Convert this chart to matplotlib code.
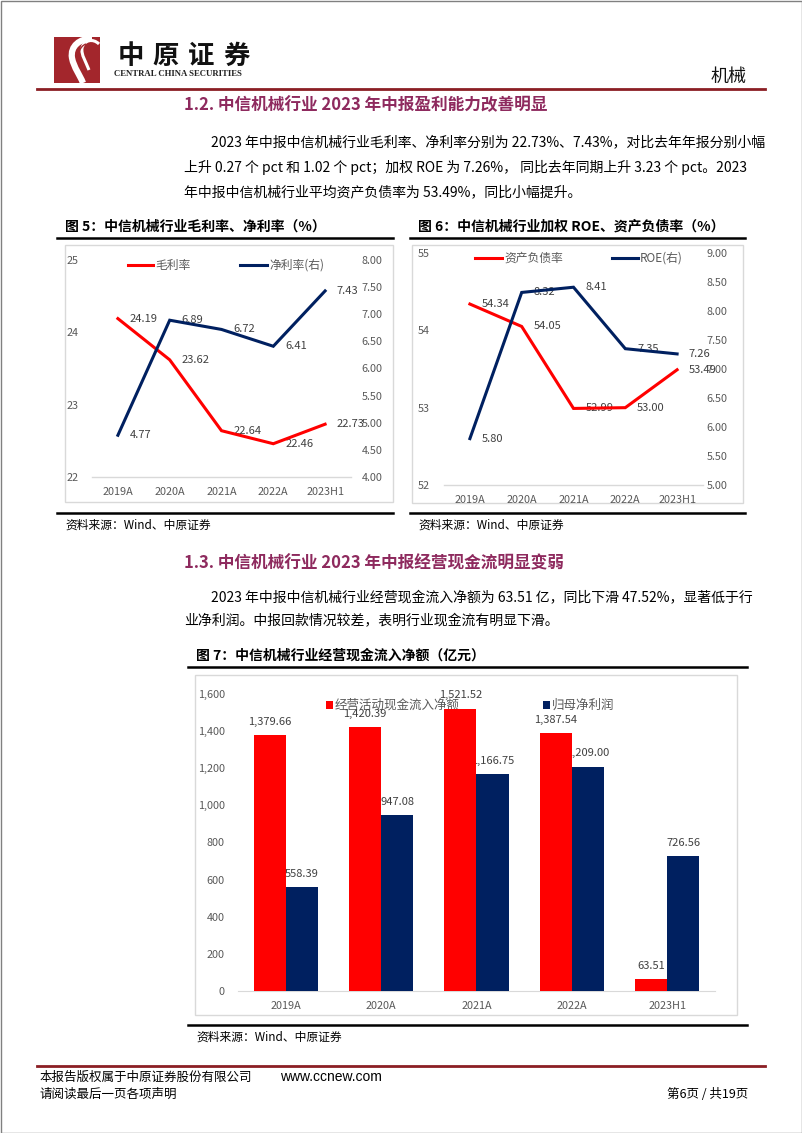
import matplotlib
matplotlib.use('Agg')
import matplotlib.pyplot as plt
from matplotlib.patches import Rectangle, PathPatch
from matplotlib.path import Path
from matplotlib.lines import Line2D
from matplotlib.ticker import FuncFormatter, FixedLocator
import numpy as np

plt.rcParams['font.family'] = ['Noto Sans CJK SC', 'DejaVu Sans']

# ---------------- data ----------------
years = ['2019A', '2020A', '2021A', '2022A', '2023H1']
gross_margin = [24.19, 23.62, 22.64, 22.46, 22.73]      # 毛利率 (left)
net_margin = [4.77, 6.89, 6.72, 6.41, 7.43]             # 净利率 (right)
debt_ratio = [54.34, 54.05, 52.99, 53.00, 53.49]        # 资产负债率 (left)
roe = [5.80, 8.32, 8.41, 7.35, 7.26]                    # ROE (right)
op_cashflow = [1379.66, 1420.39, 1521.52, 1387.54, 63.51]   # 经营活动现金流入净额
net_profit = [558.39, 947.08, 1166.75, 1209.00, 726.56]     # 归母净利润

RED = '#FF0000'
NAVY = '#002060'
GREY_TXT = '#595959'
LBL_TXT = '#404040'
BOX = '#D9D9D9'
DARKRED = '#8B1E24'
HEAD = '#8E2A5E'
LOGO = '#A3262C'

W, H = 802, 1133
fig = plt.figure(figsize=(W / 100, H / 100), dpi=100)
fig.patch.set_facecolor('white')


def frac(x0, y0, x1, y1):
    return [x0 / W, 1 - y1 / H, (x1 - x0) / W, (y1 - y0) / H]


ov = fig.add_axes([0, 0, 1, 1])
ov.set_xlim(0, W)
ov.set_ylim(H, 0)
ov.axis('off')

# page border
ov.add_patch(Rectangle((0.5, 0.5), W - 1, H - 1, fill=False, edgecolor='#808080', lw=1))

# ---------------- header ----------------
ov.add_patch(Rectangle((54, 37), 46, 46, facecolor=LOGO, edgecolor='none'))
C4 = [Path.MOVETO, Path.CURVE4, Path.CURVE4, Path.CURVE4, Path.CURVE4, Path.CURVE4, Path.CURVE4]
main = Path([(92, 38.5), (80, 38.5), (70, 46), (72, 58), (74, 68), (80, 75), (83, 83)], C4)
ov.add_patch(PathPatch(main, fill=False, edgecolor='white', lw=4.5, capstyle='butt'))
curl = Path([(99, 44), (93, 38), (84, 40), (82, 48), (81, 55), (86, 62), (89, 70)], C4)
ov.add_patch(PathPatch(curl, fill=False, edgecolor='white', lw=2.2, capstyle='butt'))
inner = Path([(86, 44), (80, 46), (77, 54), (79, 62)],
             [Path.MOVETO, Path.CURVE4, Path.CURVE4, Path.CURVE4])
ov.add_patch(PathPatch(inner, fill=False, edgecolor=LOGO, lw=1.0))
for i, ch in enumerate('中原证券'):
    ov.text(131 + i * 35, 56, ch, fontsize=19, fontweight='heavy', ha='center', va='center', color='#111111')
ov.text(114, 74, 'CENTRAL CHINA SECURITIES', fontsize=6.3, fontweight='bold',
        family=['Liberation Serif'], ha='left', va='center', color='#222222')
ov.text(747, 77, '机械', fontsize=13, ha='right', va='center', color='#111111')
ov.plot([37, 765], [89, 89], color=DARKRED, lw=2)

# ---------------- section 1.2 ----------------
ov.text(184, 105, '1.2. 中信机械行业 2023 年中报盈利能力改善明显', fontsize=12, fontweight='bold',
        color=HEAD, ha='left', va='center')
ov.text(211, 142, '2023 年中报中信机械行业毛利率、净利率分别为 22.73%、7.43%，对比去年年报分别小幅',
        fontsize=10, ha='left', va='center')
ov.text(184, 167, '上升 0.27 个 pct 和 1.02 个 pct；加权 ROE 为 7.26%， 同比去年同期上升 3.23 个 pct。2023',
        fontsize=10, ha='left', va='center')
ov.text(184, 192, '年中报中信机械行业平均资产负债率为 53.49%，同比小幅提升。',
        fontsize=10, ha='left', va='center')

# chart titles / frames
ov.text(65, 227, '图 5：中信机械行业毛利率、净利率（%）', fontsize=10, fontweight='bold', ha='left', va='center')
ov.text(418, 227, '图 6：中信机械行业加权 ROE、资产负债率（%）', fontsize=10, fontweight='bold', ha='left', va='center')
for (a, b) in [(57, 393), (410, 745)]:
    ov.plot([a, b], [238, 238], color='black', lw=1.8)
    ov.plot([a, b], [513, 513], color='black', lw=1.8)
ov.add_patch(Rectangle((65, 245), 328, 257, fill=False, edgecolor=BOX, lw=1))
ov.add_patch(Rectangle((412, 245), 331, 258, fill=False, edgecolor=BOX, lw=1))
ov.text(65, 525, '资料来源：Wind、中原证券', fontsize=8.5, ha='left', va='center')
ov.text(418, 525, '资料来源：Wind、中原证券', fontsize=8.5, ha='left', va='center')

# legends for line charts
for (x0, x1, y, txt, col) in [(128, 153, 265, '毛利率', RED), (240, 267, 265, '净利率(右)', NAVY),
                              (475, 502, 258, '资产负债率', RED), (612, 638, 258, 'ROE(右)', NAVY)]:
    ov.add_line(Line2D([x0, x1], [y, y], color=col, lw=2.2))
    ov.text(x1 + 2, y, txt, fontsize=8.5, color=GREY_TXT, ha='left', va='center')


def line_chart(rect, lvals, rvals, lylim, rylim, lticks, rticks, lfmt, rfmt, lpad, rpad, xpad):
    ax = fig.add_axes(rect)
    ax.set_facecolor('none')
    x = np.arange(len(years))
    ax.set_xlim(-0.5, len(years) - 0.5)
    ax.set_ylim(*lylim)
    axr = ax.twinx()
    axr.set_ylim(*rylim)
    ax.plot(x, lvals, color=RED, lw=2.2, zorder=3, solid_joinstyle='miter')
    axr.plot(x, rvals, color=NAVY, lw=2.2, zorder=3, solid_joinstyle='miter')
    for xi, v in zip(x, lvals):
        ax.annotate(f'{v:.2f}', (xi, v), xytext=(8.5, 0), textcoords='offset points',
                    ha='left', va='center', fontsize=8, color=LBL_TXT, zorder=2)
    for xi, v in zip(x, rvals):
        axr.annotate(f'{v:.2f}', (xi, v), xytext=(8.5, 0), textcoords='offset points',
                     ha='left', va='center', fontsize=8, color=LBL_TXT, zorder=2)
    ax.set_xticks(x)
    ax.set_xticklabels(years)
    ax.yaxis.set_major_locator(FixedLocator(lticks))
    ax.yaxis.set_major_formatter(FuncFormatter(lambda v, p: lfmt.format(v)))
    axr.yaxis.set_major_locator(FixedLocator(rticks))
    axr.yaxis.set_major_formatter(FuncFormatter(lambda v, p: rfmt.format(v)))
    ax.tick_params(axis='x', length=0, labelsize=7.8, labelcolor=GREY_TXT, pad=xpad)
    ax.tick_params(axis='y', length=0, labelsize=7.8, labelcolor=GREY_TXT, pad=lpad)
    axr.tick_params(axis='y', length=0, labelsize=7.8, labelcolor=GREY_TXT, pad=rpad)
    for s in ['top', 'left', 'right']:
        ax.spines[s].set_visible(False)
    ax.spines['bottom'].set_color(BOX)
    ax.spines['bottom'].set_linewidth(1)
    for s in axr.spines.values():
        s.set_visible(False)
    return ax, axr


line_chart(frac(92, 260, 351, 477), gross_margin, net_margin, (22, 25), (4, 8),
           [22, 23, 24, 25], list(np.arange(4, 8.01, 0.5)), '{:.0f}', '{:.2f}', 10, 7.5, 7.5)
line_chart(frac(444, 253, 703, 485), debt_ratio, roe, (52, 55), (5, 9),
           [52, 53, 54, 55], list(np.arange(5, 9.01, 0.5)), '{:.0f}', '{:.2f}', 10, 2.5, 7.5)

# ---------------- section 1.3 ----------------
ov.text(184, 563, '1.3. 中信机械行业 2023 年中报经营现金流明显变弱', fontsize=12, fontweight='bold',
        color=HEAD, ha='left', va='center')
ov.text(211, 598, '2023 年中报中信机械行业经营现金流入净额为 63.51 亿，同比下滑 47.52%，显著低于行',
        fontsize=10, ha='left', va='center')
ov.text(184, 621, '业净利润。中报回款情况较差，表明行业现金流有明显下滑。',
        fontsize=10, ha='left', va='center')
ov.text(196, 656, '图 7：中信机械行业经营现金流入净额（亿元）', fontsize=10, fontweight='bold', ha='left', va='center')
ov.plot([188, 747], [667, 667], color='black', lw=1.8)
ov.plot([188, 747], [1025, 1025], color='black', lw=1.8)
ov.add_patch(Rectangle((195, 675), 542, 340, fill=False, edgecolor=BOX, lw=1))
ov.text(196, 1037, '资料来源：Wind、中原证券', fontsize=8.5, ha='left', va='center')

# bar chart legend
ov.add_patch(Rectangle((326, 701), 7, 8, facecolor=RED, edgecolor='none'))
ov.text(335, 705, '经营活动现金流入净额', fontsize=9, color=GREY_TXT, ha='left', va='center', zorder=5)
ov.add_patch(Rectangle((543, 701), 7, 8, facecolor=NAVY, edgecolor='none'))
ov.text(552, 705, '归母净利润', fontsize=9, color=GREY_TXT, ha='left', va='center')

ax7 = fig.add_axes(frac(238, 694, 715, 991))
ax7.set_facecolor('none')
xb = np.arange(len(years))
bw = 0.336
ax7.bar(xb - bw / 2, op_cashflow, width=bw, color=RED, zorder=3)
ax7.bar(xb + bw / 2, net_profit, width=bw, color=NAVY, zorder=3)
for xi, v in zip(xb, op_cashflow):
    ax7.annotate(f'{v:,.2f}', (xi - bw / 2, v), xytext=(0, 9.5), textcoords='offset points',
                 ha='center', va='center', fontsize=8, color=LBL_TXT, zorder=4)
for xi, v in zip(xb, net_profit):
    ax7.annotate(f'{v:,.2f}', (xi + bw / 2, v), xytext=(0, 9.5), textcoords='offset points',
                 ha='center', va='center', fontsize=8, color=LBL_TXT, zorder=2)
ax7.set_xlim(-0.5, len(years) - 0.5)
ax7.set_ylim(0, 1600)
ax7.set_yticks(np.arange(0, 1601, 200))
ax7.yaxis.set_major_formatter(FuncFormatter(lambda v, p: f'{v:,.0f}'))
ax7.set_xticks(xb)
ax7.set_xticklabels(years)
ax7.tick_params(axis='x', length=0, labelsize=7.8, labelcolor=GREY_TXT, pad=7.5)
ax7.tick_params(axis='y', length=0, labelsize=7.8, labelcolor=GREY_TXT, pad=9.5)
for s in ['top', 'left', 'right']:
    ax7.spines[s].set_visible(False)
ax7.spines['bottom'].set_color(BOX)

# ---------------- footer ----------------
ov.plot([37, 765], [1066, 1066], color=DARKRED, lw=2)
ov.text(40, 1077, '本报告版权属于中原证券股份有限公司', fontsize=9, ha='left', va='center')
ov.text(280, 1077, 'www.ccnew.com', fontsize=10, family=['Liberation Sans'], ha='left', va='center')
ov.text(40, 1094, '请阅读最后一页各项声明', fontsize=9, ha='left', va='center')
ov.text(748, 1094, '第6页 / 共19页', fontsize=9, ha='right', va='center')

fig.savefig('out.png', dpi=100, facecolor='white')
